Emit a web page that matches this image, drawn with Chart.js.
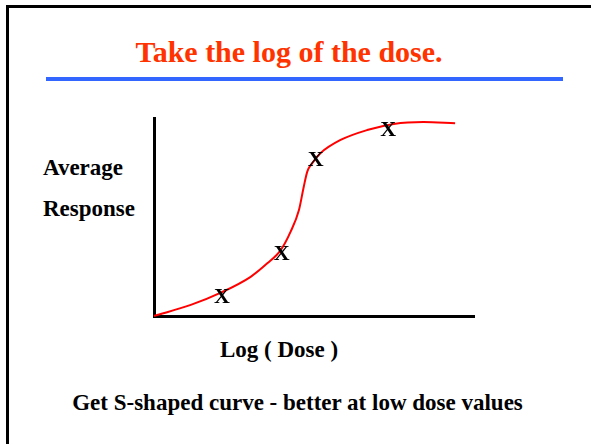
<!DOCTYPE html>
<html>
<head>
<meta charset="utf-8">
<script src="https://cdn.jsdelivr.net/npm/chart.js@4.4.1/dist/chart.umd.min.js"></script>
<style>
  html, body { margin: 0; padding: 0; background: #fff; }
  #page { position: relative; width: 591px; height: 444px; overflow: hidden; background: #fff;
          font-family: "Liberation Serif", "Times New Roman", serif; font-weight: bold; }
  .frame { position: absolute; left: 6px; top: 5px; width: 700px; height: 600px;
           border-top: 3px solid #000; border-left: 3px solid #000; }
  .rule { position: absolute; left: 46px; top: 77px; width: 517px; height: 4px; background: #3366ff; }
  .txt { position: absolute; white-space: nowrap; line-height: 1; }
  #title { left: 0; width: 578px; text-align: center; top: 37px; font-size: 30px; color: #ff3300; }
  #ylab1 { left: 43px; top: 156px; font-size: 23px; color: #000; }
  #ylab2 { left: 43px; top: 197px; font-size: 23px; color: #000; }
  #xlab { left: 220px; top: 338px; font-size: 23px; color: #000; }
  #note { left: 0; width: 595px; text-align: center; top: 391px; font-size: 23px; color: #000; }
  #wrap { position: absolute; left: 0; top: 0; width: 591px; height: 444px; }
</style>
</head>
<body>
<div id="page">
  <div class="frame"></div>
  <div class="txt" id="title">Take the log of the dose.</div>
  <div class="rule"></div>
  <div class="txt" id="ylab1">Average</div>
  <div class="txt" id="ylab2">Response</div>
  <div class="txt" id="xlab">Log ( Dose )</div>
  <div class="txt" id="note">Get S-shaped curve - better at low dose values</div>
  <div id="wrap"><canvas id="c"></canvas></div>
</div>
<script>
// Fitted S-shaped curve (log dose vs average response, arbitrary units)
const curveLogDose = [0, 11.5, 20.9, 30.2, 35.4, 39.6, 42.7, 45.3, 46.8, 47.9, 49.4, 52.0, 58.3, 66.6, 74.9, 84.2, 94.1];
const curveResponse = [0, 5.6, 11.8, 19.8, 26.6, 33.3, 42.6, 53.5, 65.3, 72.9, 77.1, 82.2, 88.9, 93.9, 97.0, 98.0, 97.3];
// Observed points marked with "X"
const obsLogDose = [21.2, 39.9, 50.5, 73.2];
const obsResponse = [10.1, 31.8, 79.3, 94.4];
const markerLabel = 'X';

const curveData = curveLogDose.map((x, i) => ({ x: x, y: curveResponse[i] }));
const obsData = obsLogDose.map((x, i) => ({ x: x, y: obsResponse[i] }));

const xMarkerPlugin = {
  id: 'xMarkers',
  afterDatasetsDraw(chart) {
    const meta = chart.getDatasetMeta(1);
    const ctx = chart.ctx;
    ctx.save();
    ctx.fillStyle = '#000';
    ctx.font = 'bold 22px "Liberation Serif", "Times New Roman", serif';
    ctx.textAlign = 'center';
    ctx.textBaseline = 'alphabetic';
    meta.data.forEach(el => {
      ctx.fillText(markerLabel, el.x, el.y + 7.3);
    });
    ctx.restore();
  }
};

new Chart(document.getElementById('c'), {
  type: 'line',
  data: {
    datasets: [
      {
        data: curveData,
        borderColor: '#ff0000',
        borderWidth: 2,
        pointRadius: 0,
        fill: false,
        cubicInterpolationMode: 'monotone',
        clip: false
      },
      {
        data: obsData,
        showLine: false,
        pointRadius: 0,
        borderColor: 'rgba(0,0,0,0)',
        backgroundColor: 'rgba(0,0,0,0)'
      }
    ]
  },
  options: {
    responsive: true,
    maintainAspectRatio: false,
    animation: false,
    events: [],
    layout: { padding: { left: 146, top: 118, right: 117, bottom: 120 } },
    plugins: { legend: { display: false }, tooltip: { enabled: false }, title: { display: false } },
    scales: {
      x: {
        type: 'linear', min: 0, max: 100,
        grid: { display: false },
        ticks: { display: false },
        border: { display: true, color: '#000', width: 3 }
      },
      y: {
        type: 'linear', min: 0, max: 100,
        grid: { display: false },
        ticks: { display: false },
        border: { display: true, color: '#000', width: 3 }
      }
    }
  },
  plugins: [xMarkerPlugin]
});
</script>
</body>
</html>
